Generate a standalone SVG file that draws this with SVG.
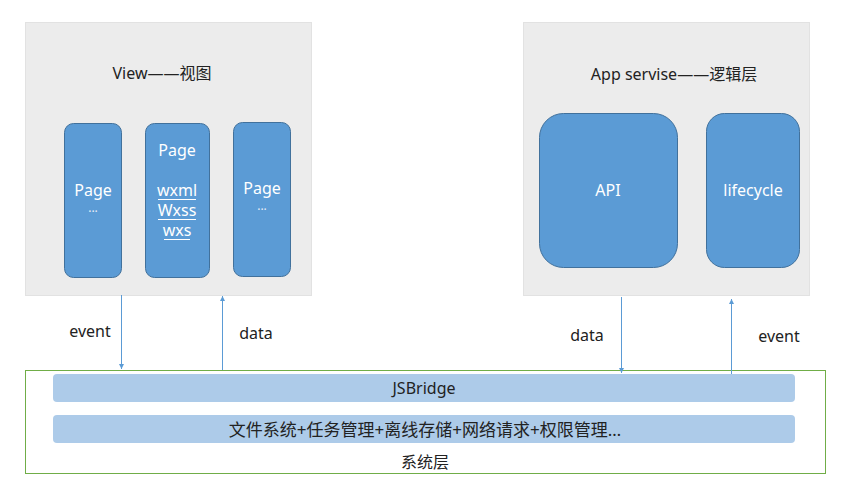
<svg xmlns="http://www.w3.org/2000/svg" width="849" height="483" viewBox="0 0 849 483">
<style>
.panel{fill:#ececec;stroke:#e2e2e2;stroke-width:1}
.blue{fill:#5b9bd5;stroke:#41719c;stroke-width:1}
.bar{fill:#adcbe9;stroke:none}
.t{font-family:"Noto Sans","Noto Sans CJK SC",sans-serif;font-size:16px;text-anchor:middle;dominant-baseline:central}
.dark{fill:#222}
.white{fill:#ffffff}
.dots{font-size:12px;fill:#e8eef7}
.big{font-size:17px}
.conn{stroke:#5b9bd5;stroke-width:1;fill:none}
.ul{stroke:#ffffff;stroke-width:1}
</style>
<defs>
<marker id="ah" viewBox="0 0 10 10" refX="10" refY="5" markerWidth="5" markerHeight="5" markerUnits="userSpaceOnUse" orient="auto">
<path d="M0,0 L10,5 L0,10 z" fill="#5b9bd5"/>
</marker>
</defs>
<rect width="849" height="483" fill="#ffffff"/>

<g id="system">
<rect x="25.5" y="370.5" width="800" height="103" fill="none" stroke="#70ad47" stroke-width="1"/>
<text class="t dark" x="425" y="462">系统层</text>
</g>
<g id="jsbridge">
<rect class="bar" x="53" y="374" width="742" height="28" rx="4"/>
<text class="t dark" x="424" y="388">JSBridge</text>
</g>
<g id="services">
<rect class="bar" x="53" y="415" width="742" height="28" rx="4"/>
<text class="t dark big" x="425" y="429">文件系统+任务管理+离线存储+网络请求+权限管理…</text>
</g>

<g id="view">
<rect class="panel" x="25.5" y="22.5" width="286" height="273"/>
<text class="t dark" x="162" y="73">View——视图</text>
</g>
<g id="page1">
<rect class="blue" x="64.5" y="123.5" width="57" height="154" rx="9"/>
<text class="t white" x="93" y="190">Page</text>
<text class="t white dots" x="93" y="211">···</text>
</g>
<g id="page2">
<rect class="blue" x="145.5" y="123.5" width="64" height="154" rx="9"/>
<text class="t white" x="177" y="150">Page</text>
<text class="t white" x="177" y="190">wxml</text>
<line class="ul" x1="158" y1="199.5" x2="196" y2="199.5"/>
<text class="t white" x="177" y="210">Wxss</text>
<line class="ul" x1="158" y1="219.5" x2="196" y2="219.5"/>
<text class="t white" x="177" y="230">wxs</text>
<line class="ul" x1="164" y1="239.5" x2="190" y2="239.5"/>
</g>
<g id="page3">
<rect class="blue" x="233.5" y="122.5" width="57" height="154" rx="9"/>
<text class="t white" x="262" y="188">Page</text>
<text class="t white dots" x="262" y="209">···</text>
</g>

<g id="appservice">
<rect class="panel" x="523.5" y="22.5" width="286" height="273"/>
<text class="t dark" x="674" y="74">App servise——逻辑层</text>
</g>
<g id="api">
<rect class="blue" x="539.5" y="113.5" width="138" height="154" rx="24"/>
<text class="t white" x="608" y="190">API</text>
</g>
<g id="lifecycle">
<rect class="blue" x="706.5" y="113.5" width="93" height="154" rx="18"/>
<text class="t white" x="753" y="190">lifecycle</text>
</g>

<g id="connectors">
<line class="conn" x1="121.5" y1="295" x2="121.5" y2="369" marker-end="url(#ah)"/>
<line class="conn" x1="222.5" y1="370" x2="222.5" y2="296" marker-end="url(#ah)"/>
<line class="conn" x1="621.5" y1="297" x2="621.5" y2="373" marker-end="url(#ah)"/>
<line class="conn" x1="731.5" y1="374" x2="731.5" y2="299" marker-end="url(#ah)"/>
<text class="t dark" x="90" y="331">event</text>
<text class="t dark" x="256" y="333">data</text>
<text class="t dark" x="587" y="335">data</text>
<text class="t dark" x="779" y="336">event</text>
</g>
</svg>
